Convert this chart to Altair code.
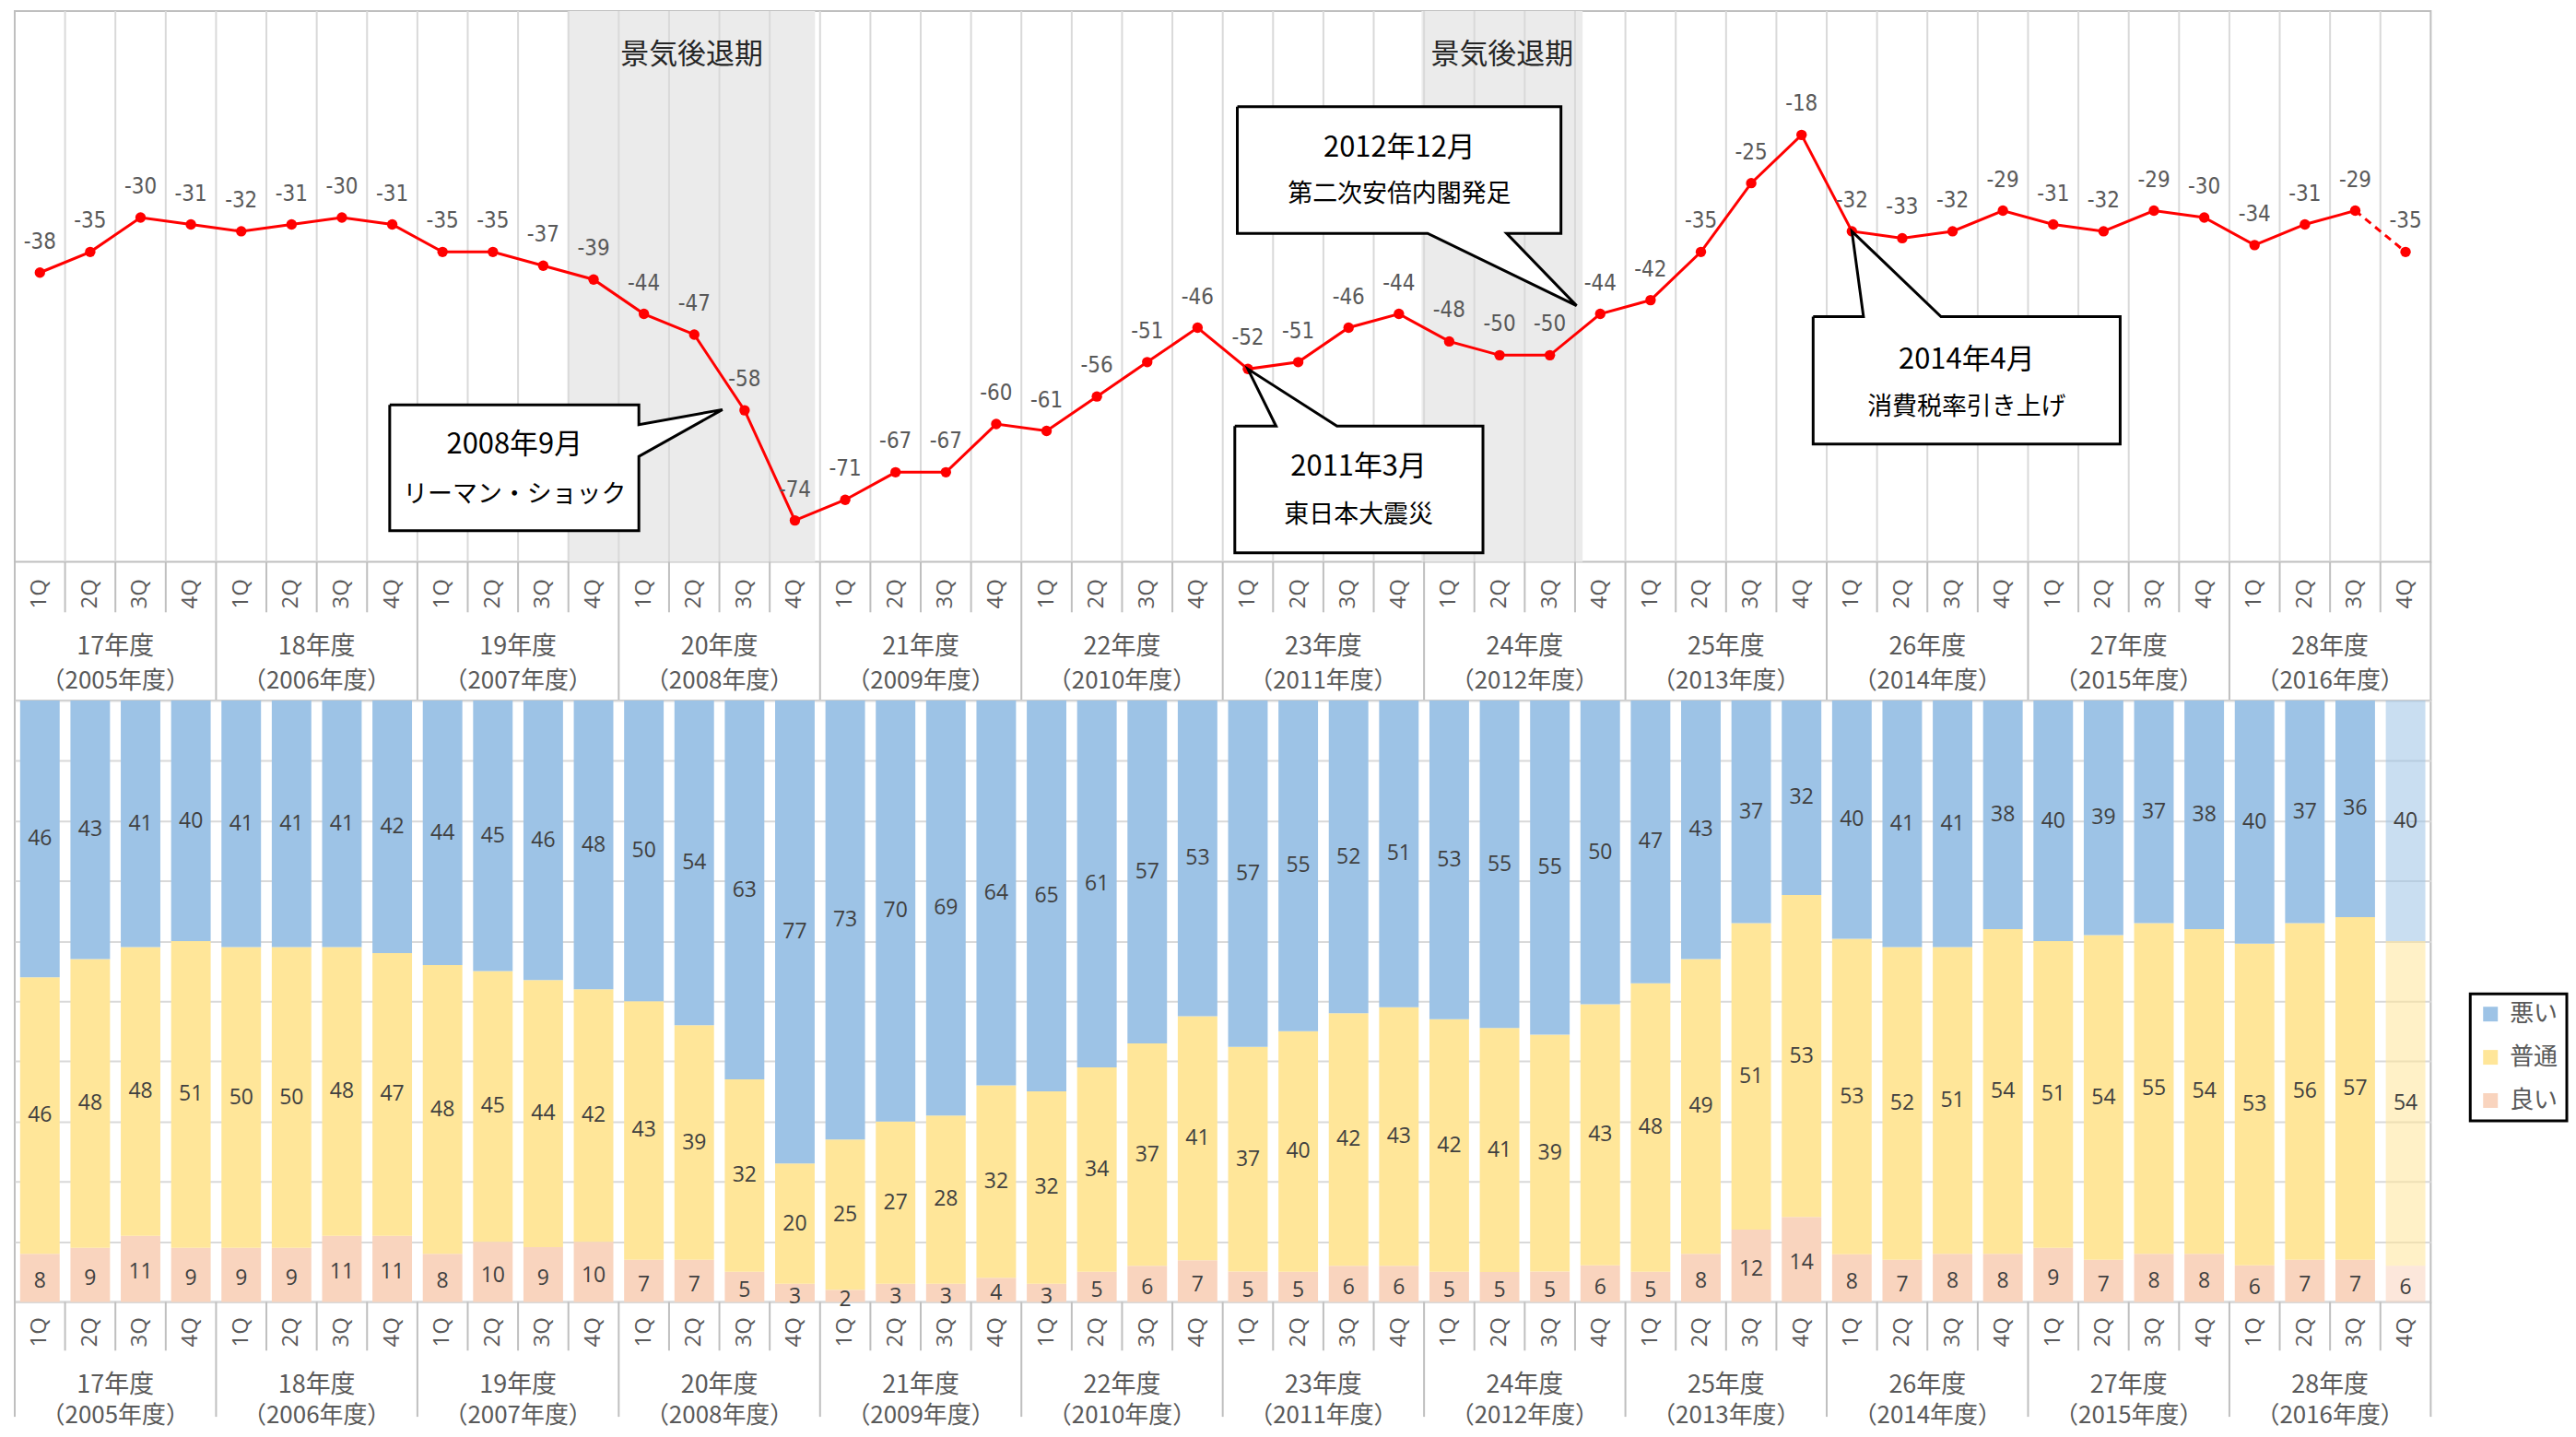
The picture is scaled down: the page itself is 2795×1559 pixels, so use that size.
import altair as alt
import pandas as pd

# ---------------- data ----------------
quarters = ["1Q", "2Q", "3Q", "4Q"]
fy_labels = ["17年度", "18年度", "19年度", "20年度", "21年度", "22年度",
             "23年度", "24年度", "25年度", "26年度", "27年度", "28年度"]
fy_western = ["（2005年度）", "（2006年度）", "（2007年度）", "（2008年度）",
              "（2009年度）", "（2010年度）", "（2011年度）", "（2012年度）",
              "（2013年度）", "（2014年度）", "（2015年度）", "（2016年度）"]

di = [-38, -35, -30, -31, -32, -31, -30, -31, -35, -35, -37, -39,
      -44, -47, -58, -74, -71, -67, -67, -60, -61, -56, -51, -46,
      -52, -51, -46, -44, -48, -50, -50, -44, -42, -35, -25, -18,
      -32, -33, -32, -29, -31, -32, -29, -30, -34, -31, -29, -35]

bad = [46, 43, 41, 40, 41, 41, 41, 42, 44, 45, 46, 48,
       50, 54, 63, 77, 73, 70, 69, 64, 65, 61, 57, 53,
       57, 55, 52, 51, 53, 55, 55, 50, 47, 43, 37, 32,
       40, 41, 41, 38, 40, 39, 37, 38, 40, 37, 36, 40]
normal = [46, 48, 48, 51, 50, 50, 48, 47, 48, 45, 44, 42,
          43, 39, 32, 20, 25, 27, 28, 32, 32, 34, 37, 41,
          37, 40, 42, 43, 42, 41, 39, 43, 48, 49, 51, 53,
          53, 52, 51, 54, 51, 54, 55, 54, 53, 56, 57, 54]
good = [8, 9, 11, 9, 9, 9, 11, 11, 8, 10, 9, 10,
        7, 7, 5, 3, 2, 3, 3, 4, 3, 5, 6, 7,
        5, 5, 6, 6, 5, 5, 5, 6, 5, 8, 12, 14,
        8, 7, 8, 8, 9, 7, 8, 8, 6, 7, 7, 6]

categories = ["悪い", "普通", "良い"]
forecast_index = 47

# recession periods, in quarter units along the x axis
rec_start = [11.0, 27.95]
rec_end = [15.9, 31.15]
rec_label = "景気後退期"

# callouts: text and layout (in data units of the top chart)
call_line1 = ["2008年9月", "2011年3月", "2012年12月", "2014年4月"]
call_line2 = ["リーマン・ショック", "東日本大震災", "第二次安倍内閣発足", "消費税率引き上げ"]
call_cx = [9.93, 26.70, 27.51, 38.78]
call_y1 = [-63.1, -66.3, -19.9, -50.7]
call_y2 = [-70.3, -73.3, -26.7, -57.6]
call_box = [(7.45, 12.40, -57.2, -75.5), (24.24, 29.17, -60.3, -78.7),
            (24.29, 30.72, -13.9, -32.3), (35.73, 41.83, -44.4, -62.9)]
call_poly = [
    [(7.45, -57.2), (12.40, -57.2), (12.40, -60.1), (14.06, -57.9), (12.40, -64.7),
     (12.40, -75.5), (7.45, -75.5), (7.45, -57.2)],
    [(24.24, -60.3), (25.06, -60.3), (24.5, -52.0), (26.27, -60.3), (29.17, -60.3),
     (29.17, -78.7), (24.24, -78.7), (24.24, -60.3)],
    [(24.29, -13.9), (30.72, -13.9), (30.72, -32.3), (29.64, -32.3), (31.03, -42.8),
     (28.07, -32.3), (24.29, -32.3), (24.29, -13.9)],
    [(35.73, -44.4), (36.73, -44.4), (36.5, -32.0), (38.27, -44.4), (41.83, -44.4),
     (41.83, -62.9), (35.73, -62.9), (35.73, -44.4)],
]

# ---------------- styles ----------------
N = 48
W = 2628
H_TOP, H_B1, H_BAR, H_B2 = 599, 151, 654, 125
JP = "Noto Sans CJK JP"
NARROW = "Liberation Sans Narrow, DejaVu Sans Condensed, Roboto"
WIDE = "Open Sans, DejaVu Sans"
GRAY_TXT = "#595959"
BLUE, YELLOW, PINK = "#9DC3E6", "#FFE699", "#F9D4BE"
BORDER = "#BFBFBF"
GRID = "#D9D9D9"

xs = alt.Scale(domain=[0, N], nice=False, zero=False)

# ---------------- tables ----------------
idx = list(range(N))
df_line = pd.DataFrame({"idx": idx, "xc": [i + 0.5 for i in idx], "di": di,
                        "lab": [str(v) for v in di]})
df_rec = pd.DataFrame({"x0": rec_start, "x1": rec_end,
                       "xm": [(a + b) / 2 for a, b in zip(rec_start, rec_end)],
                       "label": [rec_label] * len(rec_start)})
df_vgrid = pd.DataFrame({"x": list(range(1, N))})

df_call = pd.DataFrame({"cx": call_cx, "y1": call_y1, "y2": call_y2,
                        "t1": call_line1, "t2": call_line2,
                        "bx0": [b[0] for b in call_box], "bx1": [b[1] for b in call_box],
                        "by0": [b[2] for b in call_box], "by1": [b[3] for b in call_box]})
rows = []
for cid, poly in enumerate(call_poly):
    for k, (px, py) in enumerate(poly):
        rows.append({"id": cid, "ord": k, "x": px, "y": py})
df_poly = pd.DataFrame(rows)

# 100% stacked columns (each column normalised to its own total)
bar_rows = []
for i in idx:
    tot = good[i] + normal[i] + bad[i]
    y0 = 0.0
    for cat, vals, o in (("良い", good, 0), ("普通", normal, 1), ("悪い", bad, 2)):
        v = vals[i]
        h = v * 100.0 / tot
        bar_rows.append({"idx": i, "cat": cat, "val": v, "ord": o,
                         "xl": i + 0.107, "xr": i + 0.893, "xc": i + 0.5,
                         "y0": y0, "y1": y0 + h, "ym": y0 + h / 2})
        y0 += h
df_bar = pd.DataFrame(bar_rows)

df_q = pd.DataFrame({"xc": [i + 0.5 for i in idx], "q": [quarters[i % 4] for i in idx]})
df_fy = pd.DataFrame({"xc": [4 * j + 2 for j in range(12)], "a": fy_labels, "b": fy_western})
df_ysep = pd.DataFrame({"x": [4 * j for j in range(13)]})
df_qsep = pd.DataFrame({"x": [i for i in range(1, N) if i % 4 != 0]})

# ---------------- top chart ----------------
ys_top = alt.Scale(domain=[-80, 0], nice=False, zero=False)

shade = alt.Chart(df_rec).mark_rect(color="#EBEBEB").encode(
    x=alt.X("x0:Q", scale=xs, axis=None), x2="x1:Q",
    y=alt.value(0), y2=alt.value(H_TOP))
vgrid = alt.Chart(df_vgrid).mark_rule(color=GRID, strokeWidth=2).encode(
    x=alt.X("x:Q", scale=xs, axis=None), y=alt.value(0), y2=alt.value(H_TOP))
rec_text = alt.Chart(df_rec).mark_text(font=JP, fontSize=31, color="#262626").encode(
    x=alt.X("xm:Q", scale=xs, axis=None), y=alt.value(48), text="label:N")
line_solid = alt.Chart(df_line).transform_filter(f"datum.idx <= {N - 2}").mark_line(
    color="#FF0000", strokeWidth=3).encode(
    x=alt.X("xc:Q", scale=xs, axis=None), y=alt.Y("di:Q", scale=ys_top, axis=None))
line_dash = alt.Chart(df_line).transform_filter(f"datum.idx >= {N - 2}").mark_line(
    color="#FF0000", strokeWidth=3, strokeDash=[8, 6]).encode(
    x=alt.X("xc:Q", scale=xs, axis=None), y=alt.Y("di:Q", scale=ys_top, axis=None))
pts = alt.Chart(df_line).mark_circle(color="#FF0000", size=130, opacity=1).encode(
    x=alt.X("xc:Q", scale=xs, axis=None), y=alt.Y("di:Q", scale=ys_top, axis=None))
pt_lab = alt.Chart(df_line).mark_text(font=NARROW, fontSize=24, color=GRAY_TXT,
                                      dy=-33, baseline="middle").encode(
    x=alt.X("xc:Q", scale=xs, axis=None), y=alt.Y("di:Q", scale=ys_top, axis=None),
    text="lab:N")
call_bg = alt.Chart(df_call).mark_rect(color="white").encode(
    x=alt.X("bx0:Q", scale=xs, axis=None), x2="bx1:Q",
    y=alt.Y("by0:Q", scale=ys_top, axis=None), y2="by1:Q")
call_outline = alt.Chart(df_poly).mark_line(
    stroke="black", strokeWidth=3, fill="white", strokeJoin="miter").encode(
    x=alt.X("x:Q", scale=xs, axis=None), y=alt.Y("y:Q", scale=ys_top, axis=None),
    detail="id:N", order="ord:Q")
call_t1 = alt.Chart(df_call).mark_text(font=JP, fontSize=31, color="black").encode(
    x=alt.X("cx:Q", scale=xs, axis=None), y=alt.Y("y1:Q", scale=ys_top, axis=None),
    text="t1:N")
call_t2 = alt.Chart(df_call).mark_text(font=JP, fontSize=27, color="black").encode(
    x=alt.X("cx:Q", scale=xs, axis=None), y=alt.Y("y2:Q", scale=ys_top, axis=None),
    text="t2:N")

top = alt.layer(shade, vgrid, rec_text, line_solid, line_dash, pts, pt_lab,
                call_bg, call_outline, call_t1, call_t2).properties(width=W, height=H_TOP)

# ---------------- label bands ----------------
def band(h, qsep_h, q_y, a_y, b_y):
    ysep = alt.Chart(df_ysep).mark_rule(color=BORDER, strokeWidth=2).encode(
        x=alt.X("x:Q", scale=xs, axis=None), y=alt.value(0), y2=alt.value(h))
    qsep = alt.Chart(df_qsep).mark_rule(color=BORDER, strokeWidth=2).encode(
        x=alt.X("x:Q", scale=xs, axis=None), y=alt.value(0), y2=alt.value(qsep_h))
    qlab = alt.Chart(df_q).mark_text(font=WIDE, fontSize=24, color=GRAY_TXT, angle=270,
                                     baseline="middle", align="center").encode(
        x=alt.X("xc:Q", scale=xs, axis=None), y=alt.value(q_y), text="q:N")
    ya = alt.Chart(df_fy).mark_text(font=JP, fontSize=27, color=GRAY_TXT,
                                    baseline="middle").encode(
        x=alt.X("xc:Q", scale=xs, axis=None), y=alt.value(a_y), text="a:N")
    yb = alt.Chart(df_fy).mark_text(font=JP, fontSize=26, color=GRAY_TXT,
                                    baseline="middle").encode(
        x=alt.X("xc:Q", scale=xs, axis=None), y=alt.value(b_y), text="b:N")
    return alt.layer(ysep, qsep, qlab, ya, yb).properties(
        width=W, height=h, view=alt.ViewBackground(stroke="transparent"))

band1 = band(H_B1, 55, 35, 93, 130)
band2 = band(H_B2, 53, 33, 91, 124)

# ---------------- bar chart ----------------
ys_bar = alt.Scale(domain=[0, 100], nice=False, zero=True)
bars = alt.Chart(df_bar).mark_rect().encode(
    x=alt.X("xl:Q", scale=xs, axis=None), x2="xr:Q",
    y=alt.Y("y0:Q", scale=ys_bar,
            axis=alt.Axis(values=list(range(0, 101, 10)), grid=True, labels=False,
                          ticks=False, domain=False, title=None,
                          gridColor=GRID, gridWidth=2)),
    y2="y1:Q",
    color=alt.Color("cat:N", scale=alt.Scale(domain=categories, range=[BLUE, YELLOW, PINK]),
                    legend=alt.Legend(title=None, orient="none", legendX=2671, legendY=1069,
                                      direction="vertical", strokeColor="black",
                                      padding=9, symbolType="square", symbolSize=256,
                                      symbolStrokeWidth=0, labelFont=JP, labelFontSize=26,
                                      labelColor=GRAY_TXT, rowPadding=21, labelOffset=8)),
    opacity=alt.condition(f"datum.idx == {forecast_index}", alt.value(0.55), alt.value(1)),
)
bar_lab_main = alt.Chart(df_bar).transform_filter("datum.cat != '良い'").mark_text(
    font=WIDE, fontSize=23, color="#404040", baseline="middle").encode(
    x=alt.X("xc:Q", scale=xs, axis=None), y=alt.Y("ym:Q", scale=ys_bar), text="val:Q")
bar_lab_good = alt.Chart(df_bar).transform_filter("datum.cat == '良い'").mark_text(
    font=WIDE, fontSize=23, color="#404040", baseline="middle", dy=4).encode(
    x=alt.X("xc:Q", scale=xs, axis=None), y=alt.Y("ym:Q", scale=ys_bar), text="val:Q")

barchart = alt.layer(bars, bar_lab_main, bar_lab_good).properties(width=W, height=H_BAR)

chart = alt.vconcat(top, band1, barchart, band2, spacing=0, bounds="flush").properties(
    padding={"left": 6, "top": 0, "right": 0, "bottom": 0}
).configure_view(stroke=BORDER, strokeWidth=2).configure_legend(strokeWidth=3)

chart.save("out.html", embed_options={"renderer": "svg", "actions": False})
